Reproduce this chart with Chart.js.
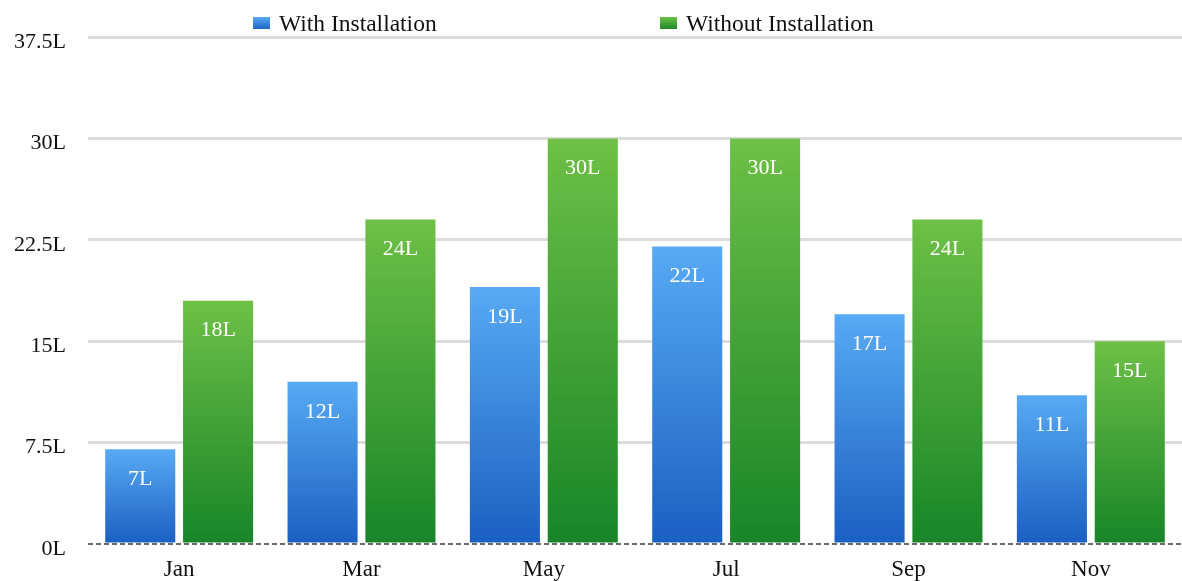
<!DOCTYPE html>
<html>
<head>
<meta charset="utf-8">
<script src="https://cdn.jsdelivr.net/npm/chart.js@4.4.1/dist/chart.umd.min.js"></script>
<style>
  html, body { margin: 0; padding: 0; background: #fff; }
  #wrap { width: 1182px; height: 581px; position: relative; }
</style>
</head>
<body>
<div id="wrap"><canvas id="c"></canvas></div>
<script>
const categories = ["Jan", "Mar", "May", "Jul", "Sep", "Nov"];
const withInstallation = [7, 12, 19, 22, 17, 11];
const withoutInstallation = [18, 24, 30, 30, 24, 15];
const seriesNames = ["With Installation", "Without Installation"];
const yTicks = [0, 7.5, 15, 22.5, 30, 37.5];

const FONT = "'Liberation Serif', 'Times New Roman', serif";
const gradients = [["#58aaf4", "#1a5fc2"], ["#6ec046", "#178528"]];

function barFill(c) {
  const chart = c.chart;
  const y = chart.scales && chart.scales.y;
  if (!y || c.raw === undefined) return gradients[c.datasetIndex][1];
  const top = y.getPixelForValue(c.raw);
  const base = y.getPixelForValue(0);
  if (!isFinite(top) || !isFinite(base) || top === base) return gradients[c.datasetIndex][1];
  const g = chart.ctx.createLinearGradient(0, top, 0, base);
  g.addColorStop(0, gradients[c.datasetIndex][0]);
  g.addColorStop(1, gradients[c.datasetIndex][1]);
  return g;
}

const valueLabels = {
  id: 'valueLabels',
  afterDatasetsDraw(chart) {
    const ctx = chart.ctx;
    ctx.save();
    ctx.font = "22px " + FONT;
    ctx.fillStyle = "#ffffff";
    ctx.textAlign = "center";
    ctx.textBaseline = "middle";
    chart.data.datasets.forEach((ds, i) => {
      chart.getDatasetMeta(i).data.forEach((bar, j) => {
        ctx.fillText(ds.data[j] + "L", bar.x, bar.y + 30);
      });
    });
    ctx.restore();
  }
};

const zeroLine = {
  id: 'zeroLine',
  afterDatasetsDraw(chart) {
    const ctx = chart.ctx;
    const y = chart.scales.y.getPixelForValue(0);
    ctx.save();
    ctx.strokeStyle = "#6a6a6a";
    ctx.lineWidth = 2;
    ctx.setLineDash([5, 3]);
    ctx.beginPath();
    ctx.moveTo(chart.chartArea.left, y);
    ctx.lineTo(chart.chartArea.right, y);
    ctx.stroke();
    ctx.restore();
  }
};

const customLegend = {
  id: 'customLegend',
  afterDraw(chart) {
    const ctx = chart.ctx;
    const positions = [253, 660];
    ctx.save();
    ctx.font = "23.5px " + FONT;
    ctx.textBaseline = "middle";
    ctx.textAlign = "left";
    chart.data.datasets.forEach((ds, i) => {
      const x = positions[i];
      const g = ctx.createLinearGradient(0, 17, 0, 30);
      g.addColorStop(0, gradients[i][0]);
      g.addColorStop(1, gradients[i][1]);
      ctx.fillStyle = g;
      ctx.fillRect(x, 17, 17, 12);
      ctx.fillStyle = "#111";
      ctx.fillText(ds.label, x + 26, 25);
    });
    ctx.restore();
  }
};

new Chart(document.getElementById('c'), {
  type: 'bar',
  data: {
    labels: categories,
    datasets: [
      { label: seriesNames[0], data: withInstallation, backgroundColor: barFill, borderWidth: 0 },
      { label: seriesNames[1], data: withoutInstallation, backgroundColor: barFill, borderWidth: 0 }
    ]
  },
  options: {
    responsive: true,
    maintainAspectRatio: false,
    animation: false,
    layout: { padding: { top: 37, right: 0, left: 0, bottom: 0 } },
    datasets: { bar: { categoryPercentage: 0.854, barPercentage: 0.9 } },
    plugins: {
      legend: { display: false },
      tooltip: { enabled: false }
    },
    scales: {
      x: {
        afterFit: (s) => { s.height = 37; },
        grid: { display: false, drawTicks: false },
        border: { display: false },
        ticks: { color: "#111", font: { family: FONT, size: 23 }, padding: 12 }
      },
      y: {
        min: 0,
        max: 37.5,
        afterFit: (s) => { s.width = 88; },
        afterBuildTicks: (s) => { s.ticks = yTicks.map(v => ({ value: v })); },
        grid: {
          drawTicks: false,
          lineWidth: 3,
          color: (c) => c.tick && c.tick.value === 0 ? "rgba(0,0,0,0)" : "#dcdcdc"
        },
        border: { display: false },
        ticks: {
          color: "#111",
          font: { family: FONT, size: 22 },
          padding: 22,
          labelOffset: 5,
          callback: (v) => v + "L"
        }
      }
    }
  },
  plugins: [valueLabels, zeroLine, customLegend]
});
</script>
</body>
</html>
